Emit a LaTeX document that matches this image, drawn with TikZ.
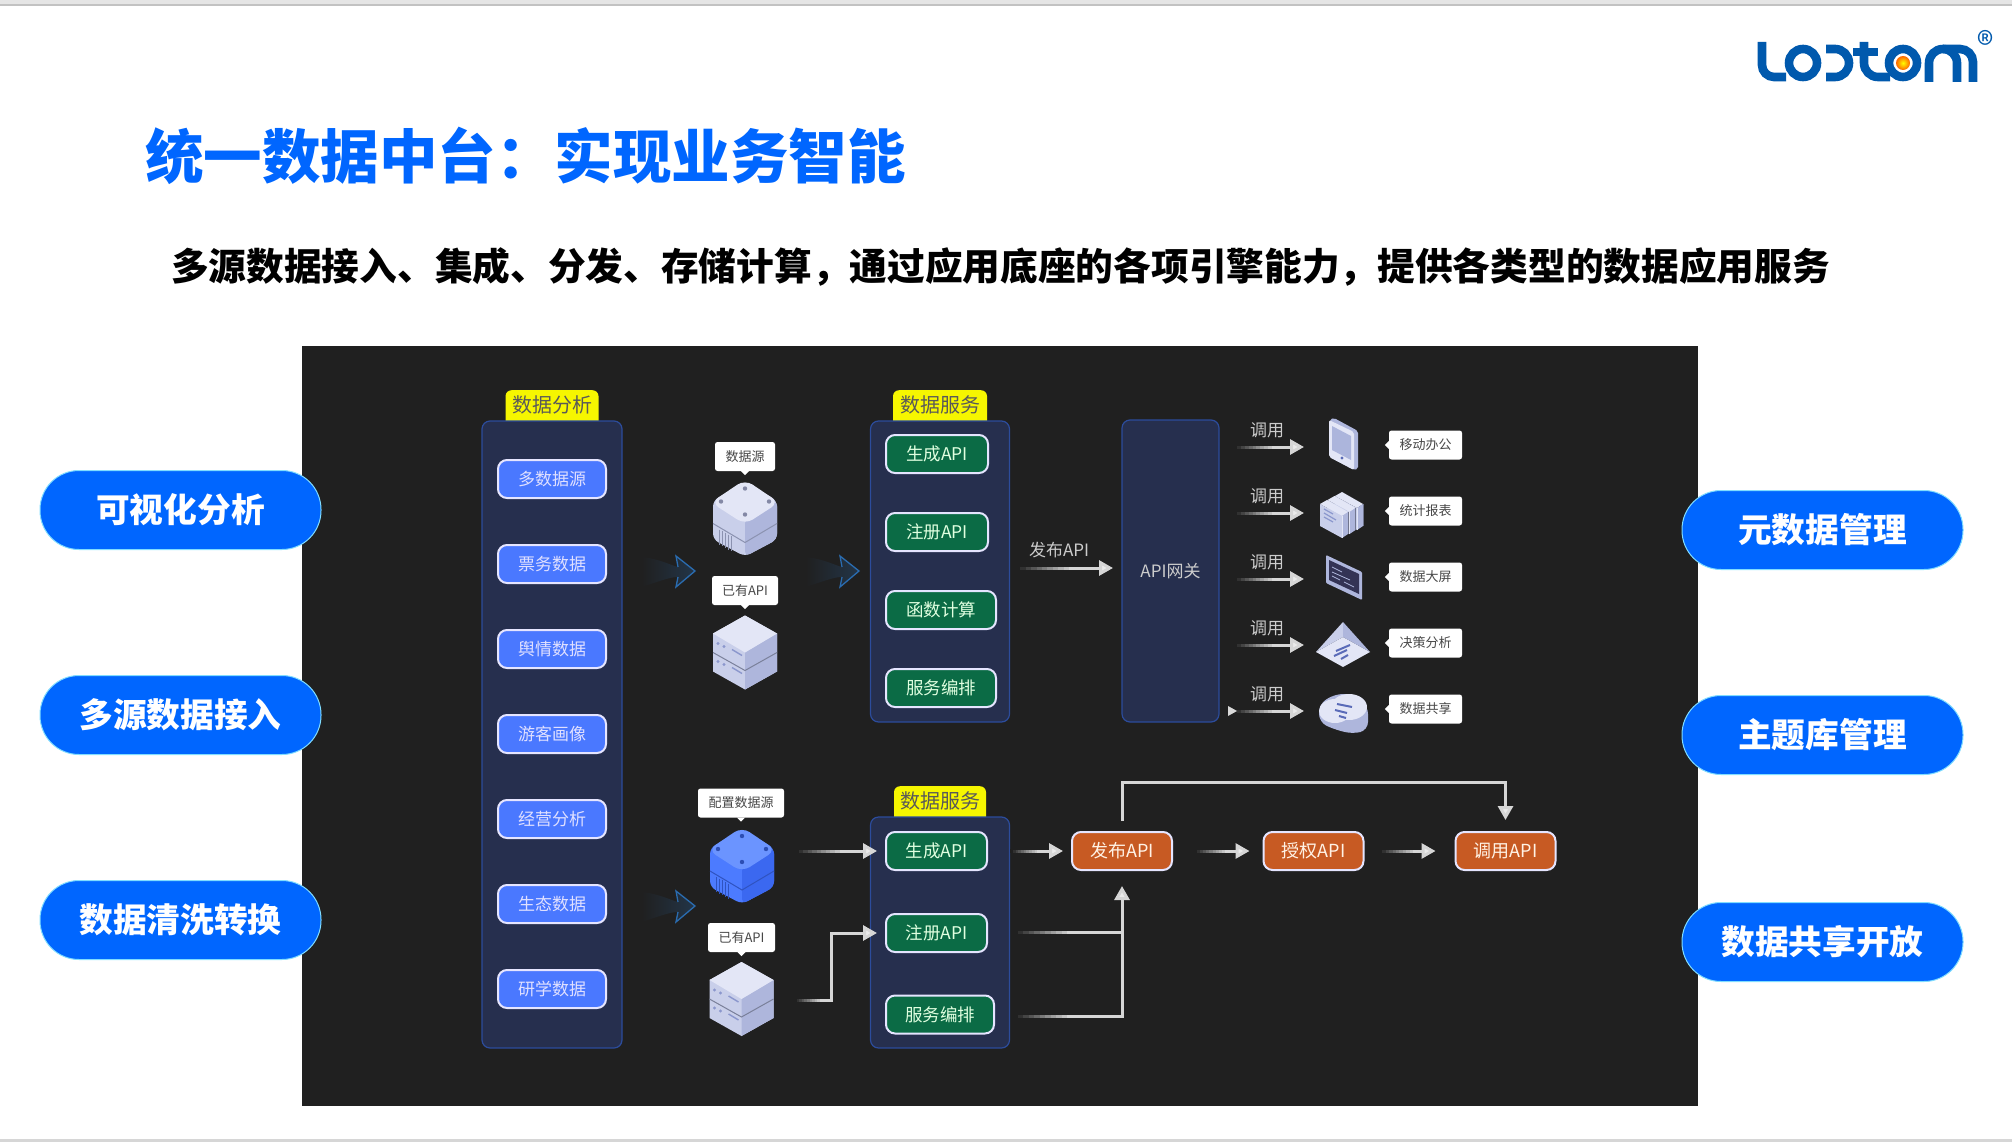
\documentclass[tikz,border=0pt]{standalone}
\usepackage{fontspec}
\setmainfont{Noto Sans CJK SC}
\usetikzlibrary{calc,arrows.meta}
\definecolor{bgdark}{HTML}{202020}
\definecolor{pillblue}{HTML}{0066FF}
\definecolor{panelblue}{HTML}{262F4E}
\definecolor{paneledge}{HTML}{2C4C9C}
\definecolor{btnblue}{HTML}{4A78FF}
\definecolor{btngreen}{HTML}{0B6B45}
\definecolor{btnorange}{HTML}{C75A23}
\definecolor{tabyellow}{HTML}{F6F600}
\definecolor{icl}{HTML}{E3E6F6}
\definecolor{icm}{HTML}{C9CFEA}
\definecolor{icd}{HTML}{AEB6DC}
\definecolor{icmark}{HTML}{5A6BB8}
\definecolor{bll}{HTML}{6B94FF}
\definecolor{blm}{HTML}{4C7BFF}
\definecolor{bld}{HTML}{3B68F0}
\definecolor{logoblue}{HTML}{0059AD}
\definecolor{swooshblue}{HTML}{2A6CB0}
\newcommand{\fsz}[1]{\fontsize{#1}{#1}\selectfont}
\newcommand{\fadelink}[3]{%
\foreach \fk in {0,...,9}{
\pgfmathsetmacro\ta{\fk*#3/10}
\pgfmathsetmacro\tb{(\fk+1)*#3/10}
\pgfmathsetmacro\op{1-\fk/10}
\draw[bgdark,line width=3.8pt,draw opacity=\op] ($(#1)!\ta!(#2)$) -- ($(#1)!\tb!(#2)$);
}}
\tikzset{
pill/.style={fill=pillblue,draw=pillblue!45!cyan!50!white,line width=1pt,rounded corners=39pt,minimum width=281pt,minimum height=79pt,inner sep=0pt,text=white,font=\fsz{33.7}\bfseries},
panelbox/.style={fill=panelblue,draw=paneledge,line width=1.2pt,rounded corners=8pt,inner sep=0pt},
tabbox/.style={fill=tabyellow,rounded corners=6pt,inner xsep=0pt,inner ysep=0pt,text height=22pt,text depth=20pt,anchor=north,text=black!65,font=\fsz{20}},
btn/.style={draw=white!90!blue,line width=2pt,rounded corners=9pt,minimum height=38pt,inner sep=0pt},
btnb/.style={btn,fill=btnblue,text=white!88!blue,minimum width=108pt,font=\fsz{17}},
btng/.style={btn,fill=btngreen,text=white!88!green,anchor=west,font=\fsz{17.5}},
btno/.style={btn,fill=btnorange,text=white!90!orange,minimum width=100pt,font=\fsz{18}},
callout/.style={fill=white,rounded corners=2.5pt,minimum height=29pt,inner sep=0pt,text=black!72,font=\fsz{13}},
tagbox/.style={fill=white,rounded corners=2.5pt,minimum width=73pt,minimum height=29pt,inner sep=0pt,text=black!72,font=\fsz{13}},
conn/.style={draw=white!84!black,line width=3pt,-{Triangle[length=14pt,width=15pt,fill=white!92!black]}},
connplain/.style={draw=white!84!black,line width=3pt},
lbl/.style={inner sep=0pt,text=white!80!black,font=\fsz{17}},
pics/cubeicon/.style n args={3}{code={
\fill[#2,rounded corners=6pt] (-32,-18) -- (0,-36) -- (32,-18) -- (32,21) -- (0,38) -- (-32,21) -- cycle;
\fill[#3,rounded corners=5pt] (0,0) -- (32,-18) -- (32,21) -- (0,38) -- cycle;
\fill[#1,rounded corners=9pt] (-34,-16) -- (0,-39) -- (34,-16) -- (0,6) -- cycle;
\draw[#3!80!black,line width=1pt] (-32,5) -- (0,24) -- (32,5);
\foreach \a/\b in {0/-30,-24/-17,24/-17,0/-4}
\fill[#3!75!black] (\a,\b) circle (2.2);
\foreach \v in {0,...,4}
\draw[#3!80!black,line width=1pt] (-26+\v*3,11+\v*1.7) -- ++(0,15);
}},
pics/srvicon/.style={code={
\fill[icm] (-32,-19) -- (0,-37) -- (32,-19) -- (32,19) -- (0,37) -- (-32,19) -- cycle;
\fill[icd] (0,0) -- (32,-19) -- (32,19) -- (0,37) -- cycle;
\fill[icl] (-32,-19) -- (0,-37) -- (32,-19) -- (0,0) -- cycle;
\draw[icd!70!black,line width=1pt] (-32,0) -- (0,18) -- (32,0);
\foreach \o in {0,18}{
\fill[icmark!70!white] (-27,-9+\o) circle (1.6) (-21,-6+\o) circle (1.6);
\draw[icmark!70!white,line width=1.4pt] (-13,-3+\o) -- (-3,3+\o);
}
}},
pics/phoneicon/.style={code={
\fill[icd,rounded corners=2pt] (-13,-25) -- (-9,-26) -- (15,-13) -- (15,25) -- (11,26) -- (-13,13) -- cycle;
\fill[icl,rounded corners=2pt] (-14,-24) -- (11,-12) -- (11,26) -- (-14,13) -- cycle;
\fill[icmark!50!white] (-11,-18) -- (8,-8) -- (8,16) -- (-11,6) -- cycle;
\fill[icmark] (-1,14) circle (1.6);
}},
pics/booksicon/.style={code={
\foreach \o in {2,1,0}{
\begin{scope}[shift={(\o*7.5,-\o*4)}]
\fill[icl] (-22,-9) -- (-15,-13) -- (6,-1) -- (0,3) -- cycle;
\fill[icd] (0,3) -- (6,-1) -- (6,21) -- (0,25) -- cycle;
\fill[icm] (-22,-9) -- (0,3) -- (0,25) -- (-22,13) -- cycle;
\draw[icl,line width=.9pt] (0,3) -- (0,25);
\draw[icd!65!black,line width=.8pt] (6,-1) -- (6,21);
\end{scope}
}
\draw[icmark!70!white,line width=1.2pt] (-18,-4) -- (-9,1) (-18,0) -- (-6,7) (-18,4) -- (-9,9);
}},
pics/screenicon/.style={code={
\fill[icd,rounded corners=1pt] (-18,-22) -- (18,-5) -- (18,23) -- (-18,6) -- cycle;
\fill[black!78!blue!60!gray] (-15,-17) -- (15,-3) -- (15,17) -- (-15,3) -- cycle;
\draw[icd,line width=.8pt] (-12,-10) -- (-2,-5) (-12,-5) -- (6,3) (-12,-1) -- (-4,3) (0,5) -- (10,10);
}},
pics/pyramidicon/.style={code={
\fill[icl] (-27,7) -- (0,-8) -- (27,7) -- (0,22) -- cycle;
\fill[icm] (-27,7) -- (0,-23) -- (0,-8) -- cycle;
\fill[icd] (27,7) -- (0,-23) -- (0,-8) -- cycle;
\draw[icmark,line width=2pt] (-7,6) -- (7,0) (-9,11) -- (4,5) (-2,14) -- (5,10);
}},
pics/cloudicon/.style={code={
\fill[icd,rounded corners=8pt] (-24,-10) -- (-8,-20) -- (12,-20) -- (25,-8) -- (25,16) -- (10,20) -- (-10,15) -- (-24,8) -- cycle;
\fill[icl] (-8,-3) ellipse [x radius=16,y radius=12];
\fill[icl] (6,-7) ellipse [x radius=18,y radius=13];
\draw[icmark,line width=2pt] (-6,-10) -- (9,-7) (-8,-4) -- (4,-1) (-4,2) -- (3,4);
}},
pics/swoosh/.style={code={
\shade[left color=bgdark,right color=swooshblue!28!bgdark] (-53,-14) .. controls (-35,-12) and (-25,-6) .. (-17,-4) -- (-19,-15) -- (0,0) -- (-19,16) -- (-17,6) .. controls (-25,6) and (-35,10) .. (-53,16) -- cycle;
\draw[swooshblue,line width=1.3pt,line join=miter] (-17,-4) -- (-19,-15) -- (0,0) -- (-19,16) -- (-17,6);
}}
}
\begin{document}
\begin{tikzpicture}[x=1pt,y=-1pt]
\useasboundingbox (0,0) rectangle (2012,1142);
\fill[black!10] (0,0) rectangle (2012,4);
\fill[black!24] (0,4) rectangle (2012,6);
\fill[black!16] (0,1139) rectangle (2012,1142);
% logo
\begin{scope}[logoblue,line width=8.6pt]
\draw (1762,42) -- (1762,65) arc[start angle=180,end angle=90,radius=12] -- (1786,77);
\draw (1803,63) circle (14);
\draw (1826,49) -- (1835,49) arc[start angle=-90,end angle=90,radius=14] -- (1826,77);
\draw (1864,42) -- (1864,63) arc[start angle=180,end angle=90,radius=14] -- (1890,77);
\draw (1853,52) -- (1878,52);
\draw (1903,63) circle (14);
\draw (1929,82) -- (1929,63) arc[start angle=180,end angle=360,radius=14] -- (1957,82);
\draw (1943,49) -- (1960,49) arc[start angle=270,end angle=360,radius=13] -- (1973,82);
\end{scope}
\shade[inner color=yellow,outer color=orange!80!red] (1903,63) circle (7);
\node[inner sep=0pt,text=logoblue,font=\fsz{34}] (logoR) at (1986,44) {®};
% title
\node[anchor=west,inner sep=0pt,text=pillblue,font=\fsz{58.5}\bfseries] (title) at (145,156) {统一数据中台：实现业务智能};
\node[inner sep=0pt,text=black,font=\fsz{37.7}\bfseries] (subtitle) at (1000.5,267) {多源数据接入、集成、分发、存储计算，通过应用底座的各项引擎能力，提供各类型的数据应用服务};
% pills
\fill[bgdark] (302,346) rectangle (1698,1106);
\foreach \nm/\x/\y/\txt in {pa/180.5/510/可视化分析,pb/180.5/715/多源数据接入,pc/180.5/920/数据清洗转换,pd/1822.5/530/元数据管理,pe/1822.5/735/主题库管理,pf/1822.5/942/数据共享开放}
\node[pill] (\nm) at (\x,\y) {\txt};
% columns
\node[tabbox,minimum width=93pt] (tabA) at (552,390) {数据分析};
\node[tabbox,minimum width=94pt] (tabB) at (940,390) {数据服务};
\node[tabbox,minimum width=92pt] (tabC) at (940,786) {数据服务};
\node[panelbox,minimum width=140pt,minimum height=627pt] (colA) at (552,734.5) {};
\node[panelbox,minimum width=139pt,minimum height=301pt] (colB) at (940,571.5) {};
\node[panelbox,minimum width=139pt,minimum height=231pt] (colC) at (940,932.5) {};
\node[panelbox,minimum width=97pt,minimum height=302pt,text=white!80!black,font=\fsz{17}] (gate) at (1170.5,571) {API网关};
\foreach \i/\y/\txt in {1/479/多数据源,2/564/票务数据,3/649/舆情数据,4/734/游客画像,5/819/经营分析,6/904/生态数据,7/989/研学数据}
\node[btnb] (da\i) at (552,\y) {\txt};
\foreach \i/\y/\w/\txt in {1/454/102/生成API,2/532/102/注册API,3/610/110/函数计算,4/688/110/服务编排}
\node[btng,minimum width=\w pt] (ds\i) at (885,\y) {\txt};
\foreach \i/\y/\w/\txt in {1/851/101/生成API,2/933/101/注册API,3/1014.5/108/服务编排}
\node[btng,minimum width=\w pt] (dc\i) at (885,\y) {\txt};
\node[btno] (pub) at (1122,851) {发布API};
\node[btno] (auth) at (1313.5,851) {授权API};
\node[btno] (use) at (1505.5,851) {调用API};
% callouts and icons
\foreach \nm/\x/\y/\w/\txt in {coa/745/456.5/60/数据源,cob/745/590.5/66/已有API,coc/741/803/86/配置数据源,cod/741.5/937.5/67/已有API}{
\node[callout,minimum width=\w pt] (\nm) at (\x,\y) {\txt};
\fill[white] ([xshift=-4pt]\nm.south) -- ([xshift=4pt]\nm.south) -- ([yshift=-4pt]\nm.south) -- cycle;
}
\pic at (745,518.5) {cubeicon={icl}{icm}{icd}};
\pic at (745,652.5) {srvicon};
\pic at (742,866) {cubeicon={bll}{blm}{bld}};
\pic at (741.5,999) {srvicon};
\pic at (695,571) {swoosh};
\pic at (859,571) {swoosh};
\pic at (695,906) {swoosh};
% right side
\foreach \i/\ya/\yb/\txt in {1/447/445/移动办公,2/513/511/统计报表,3/579/577/数据大屏,4/645/643/决策分析,5/711/709/数据共享}{
\coordinate (gs\i) at (1233,\ya);
\coordinate (ge\i) at (1304,\ya);
\draw[conn] (gs\i) -- (ge\i);
\fadelink{gs\i}{ge\i}{.55}
\node[lbl,above=9pt] (gl\i) at ($(gs\i)!.48!(ge\i)$) {调用};
\node[tagbox] (tg\i) at (1425.5,\yb) {\txt};
\fill[white] ([yshift=-4pt]tg\i.west) -- ([yshift=4pt]tg\i.west) -- ([xshift=-4pt]tg\i.west) -- cycle;
}
\fill[white!85!black] (1228,706) -- (1237,711) -- (1228,716) -- cycle;
\pic at (1343,444) {phoneicon};
\pic at (1342,513) {booksicon};
\pic at (1344,577) {screenicon};
\pic at (1343,645) {pyramidicon};
\pic at (1343,714) {cloudicon};
% publish
\coordinate (ps) at (1015,568);
\coordinate (pe) at (1113,568);
\draw[conn] (ps) -- (pe);
\fadelink{ps}{pe}{.55}
\node[lbl,above=10pt] (pl) at ($(ps)!.45!(pe)$) {发布API};
% lower flow
\coordinate (ls1) at (794,851);
\coordinate (ls2) at (794,1000);
\coordinate (lk2) at (831,1000);
\coordinate (ls3) at (1010,851);
\coordinate (ls4) at (1194,851);
\coordinate (ls5) at (1379,851);
\coordinate (ls6) at (1012,932);
\coordinate (ls7) at (1012,1016);
\coordinate (lj6) at (1122,932);
\coordinate (lj7) at (1122,1016);
\draw[conn,shorten >=8pt] (ls1) -- (dc1.west);
\fadelink{ls1}{dc1.west}{.5}
\draw[conn,shorten >=8pt] (ls2) -| (dc2.west -| lk2) -- (dc2.west);
\fadelink{ls2}{lk2}{.7}
\draw[conn,shorten >=8pt] (ls3) -- (pub.west);
\fadelink{ls3}{pub.west}{.45}
\draw[conn,shorten >=13pt] (ls4) -- (auth.west);
\fadelink{ls4}{auth.west}{.45}
\draw[conn,shorten >=19pt] (ls5) -- (use.west);
\fadelink{ls5}{use.west}{.45}
\draw[connplain] (ls6) -- (lj6);
\fadelink{ls6}{lj6}{.5}
\draw[conn,shorten >=15pt] (ls7) -| (pub.south);
\fadelink{ls7}{lj7}{.5}
\draw[conn,shorten <=10pt,shorten >=11pt] (pub.north) -- ++(0,-49) -| (use.north);
\end{tikzpicture}
\end{document}
